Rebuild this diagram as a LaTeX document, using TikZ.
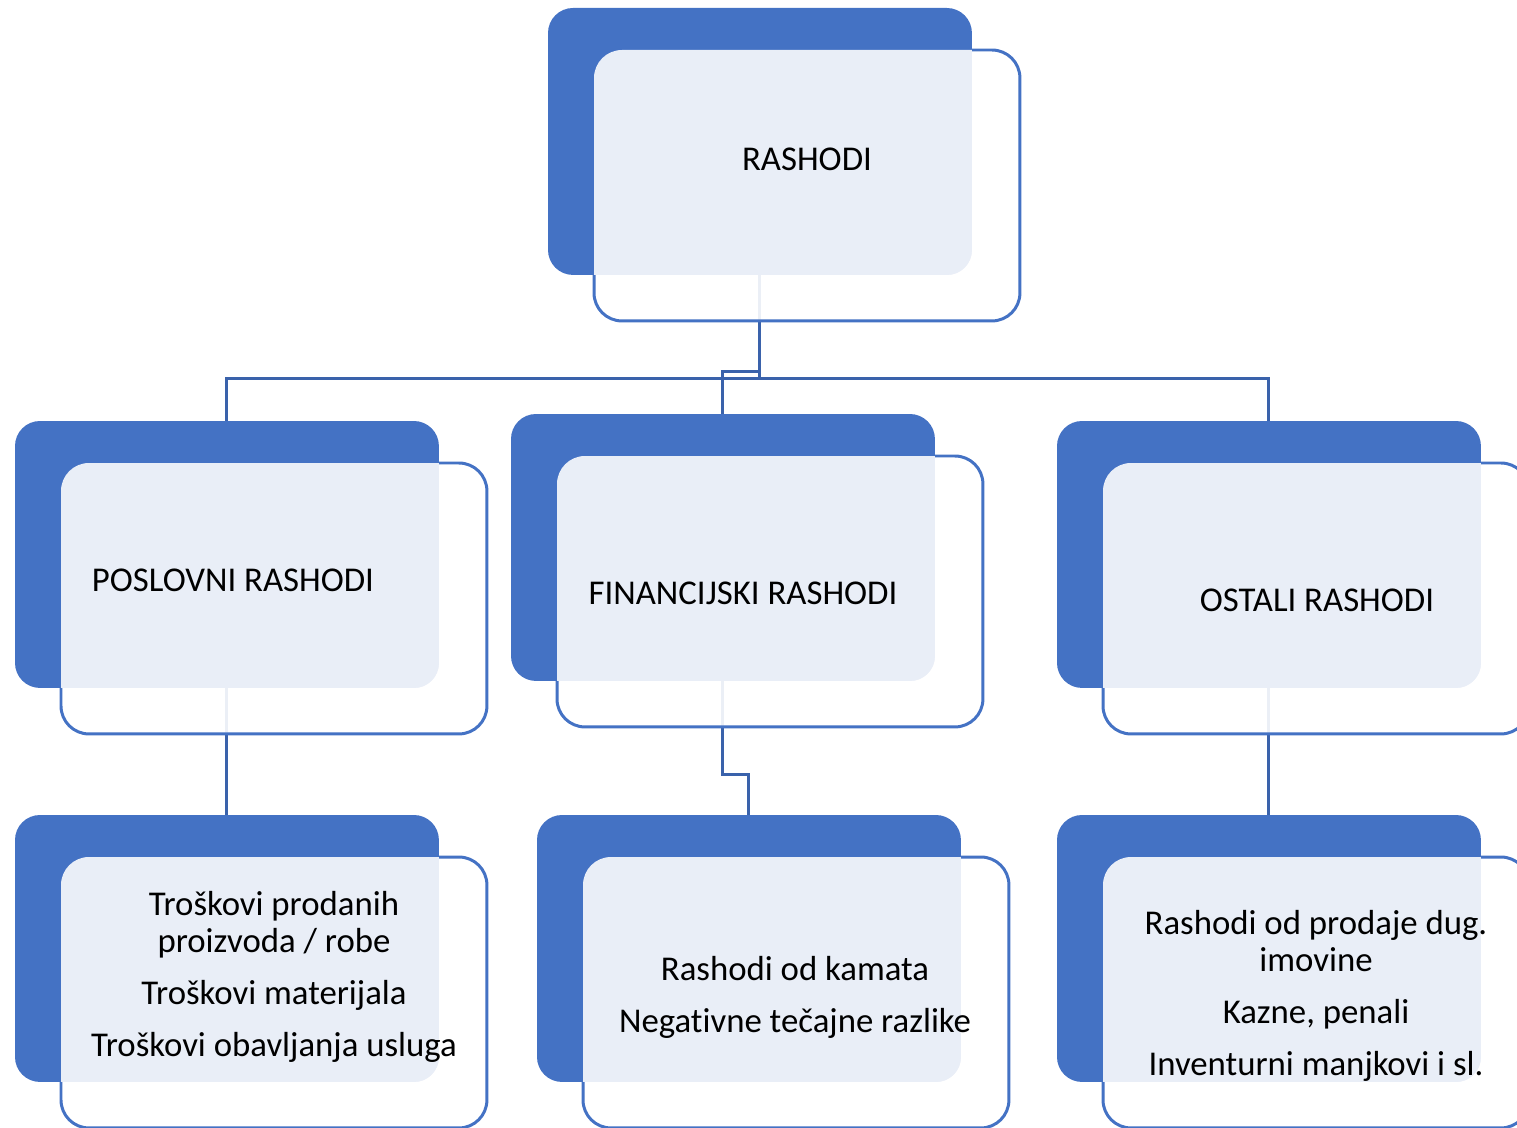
\documentclass[tikz,border=0pt]{standalone}
\usepackage{fontspec}
\setmainfont{Carlito}[Ligatures=CommonOff]
\definecolor{accent}{HTML}{4472C4}
\definecolor{lightacc}{HTML}{E9EEF7}
\definecolor{connc}{HTML}{3A62AB}
\tikzset{
  backbox/.style={fill=accent, rounded corners=0.5cm, minimum width=8.48cm, minimum height=5.34cm, anchor=north west, inner sep=0pt, outer sep=0pt},
  frontbox/.style={draw=accent, line width=1.7pt, fill=white, fill opacity=0.9, rounded corners=0.56cm, minimum width=8.52cm, minimum height=5.42cm, anchor=north west, inner sep=0pt, outer sep=0pt},
  conn/.style={draw=connc, line width=1.7pt},
  lbl/.style={font=\fontsize{19.8}{21.2}\selectfont, align=center, text=black, inner sep=0pt}
}
\newcommand\myelem[3]{%
  \node[backbox] (#1b) at (#2,#3) {};
  \node[frontbox] (#1f) at ({#2+46},{#3+42}) {};
  \begin{scope}
    \clip[rounded corners=0.5cm] (#1b.north west) rectangle (#1b.south east);
    \fill[lightacc, rounded corners=0.56cm] (#1f.north west) rectangle (#1f.south east);
  \end{scope}
}
\begin{document}
\begin{tikzpicture}[x=0.02cm, y=-0.02cm]
\useasboundingbox (0,0) rectangle (1517,1128);
% placeholders for connector anchors
\path (548,8) node[backbox, fill=none] (topb) {}
      (15,421) node[backbox, fill=none] (l2b) {}
      (511,414) node[backbox, fill=none] (m2b) {}
      (1057,421) node[backbox, fill=none] (r2b) {}
      (15,815) node[backbox, fill=none] (l3b) {}
      (537,815) node[backbox, fill=none] (m3b) {}
      (1057,815) node[backbox, fill=none] (r3b) {};
% connectors
\draw[conn] (topb.south) -- ++(0,104) -| (l2b.north);
\draw[conn] (topb.south) -- ++(0,104) -| (r2b.north);
\draw[conn] (topb.south) -- ++(0,97) -| (m2b.north);
\draw[conn] (l2b.south) -- (l3b.north);
\draw[conn] (m2b.south) -- ++(0,94) -| (m3b.north);
\draw[conn] (r2b.south) -- (r3b.north);
% elements
\myelem{top}{548}{8}
\myelem{l2}{15}{421}
\myelem{m2}{511}{414}
\myelem{r2}{1057}{421}
\myelem{l3}{15}{815}
\myelem{m3}{537}{815}
\myelem{r3}{1057}{815}
% texts
\node[lbl] (ttop) at (807,159) {RASHODI};
\node[lbl] (tl2) at (233,580) {POSLOVNI RASHODI};
\node[lbl] (tm2) at (743,593) {FINANCIJSKI RASHODI};
\node[lbl] (tr2) at (1317,600) {OSTALI RASHODI};
\node[lbl] (tl3) at (274,977) {Troškovi prodanih\\proizvoda / robe\\[8.3pt]Troškovi materijala\\[8.3pt]Troškovi obavljanja usluga};
\node[lbl] (tm3) at (795,997) {Rashodi od kamata\\[8.3pt]Negativne tečajne razlike};
\node[lbl] (tr3) at (1316,996) {Rashodi od prodaje dug.\\imovine\\[8.3pt]Kazne, penali\\[8.3pt]Inventurni manjkovi i sl.};
\end{tikzpicture}
\end{document}
